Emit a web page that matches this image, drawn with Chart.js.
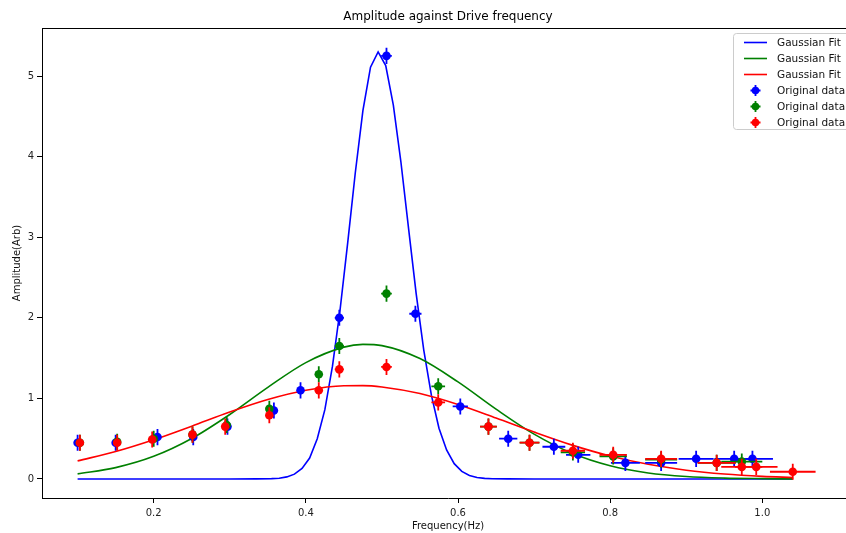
<!DOCTYPE html>
<html><head><meta charset="utf-8">
<script src="https://cdn.jsdelivr.net/npm/chart.js@4.4.1/dist/chart.umd.min.js"></script>
<style>
html,body{margin:0;padding:0;background:#fff;overflow:hidden;width:846px;height:533px;}
#wrap{position:absolute;left:0;top:0;width:862px;height:533px;}
</style></head><body>
<div id="wrap"><canvas id="c"></canvas></div>
<script>
const titleText = 'Amplitude against Drive frequency';
const xLabel = 'Frequency(Hz)';
const yLabel = 'Amplitude(Arb)';
const xTicks = [0.2, 0.4, 0.6, 0.8, 1.0];
const yTicks = [0, 1, 2, 3, 4, 5];
const fitName = 'Gaussian Fit';
const dataName = 'Original data';
const seriesColors = ['#0000ff', '#008000', '#ff0000'];

// Fitted curves
const fitX     = [0.10, 0.15, 0.20, 0.25, 0.30, 0.35, 0.40, 0.45, 0.475, 0.50, 0.55, 0.60, 0.65, 0.70, 0.75, 0.80, 0.85, 0.90, 0.95, 1.00, 1.04];
const greenFit = [0.063, 0.141, 0.281, 0.502, 0.800, 1.137, 1.444, 1.636, 1.670, 1.655, 1.494, 1.204, 0.866, 0.556, 0.318, 0.163, 0.074, 0.030, 0.011, 0.004, 0.001];
const redFit   = [0.225, 0.340, 0.486, 0.655, 0.830, 0.985, 1.100, 1.157, 1.159, 1.142, 1.060, 0.924, 0.756, 0.582, 0.420, 0.285, 0.182, 0.109, 0.061, 0.032, 0.019];

const blueFitX = [0.10, 0.20, 0.30, 0.335, 0.355, 0.365, 0.375, 0.385, 0.395, 0.405, 0.415, 0.425, 0.435, 0.445, 0.455, 0.465, 0.475, 0.485, 0.495, 0.505, 0.515, 0.525, 0.535, 0.545, 0.555, 0.565, 0.575, 0.585, 0.595, 0.605, 0.615, 0.625, 0.635, 0.645, 0.665, 0.70, 0.80, 0.90, 1.04];
const blueFit  = [0, 0, 0, 0.001, 0.004, 0.010, 0.026, 0.060, 0.13, 0.26, 0.50, 0.86, 1.40, 2.10, 2.93, 3.80, 4.57, 5.11, 5.30, 5.13, 4.64, 3.93, 3.11, 2.30, 1.60, 1.04, 0.63, 0.36, 0.19, 0.094, 0.044, 0.019, 0.008, 0.003, 0.001, 0, 0, 0, 0];

// Original data with error bars
const blueX    = [0.100, 0.150, 0.205, 0.252, 0.297, 0.358, 0.393, 0.444, 0.506, 0.544, 0.603, 0.666, 0.726, 0.758, 0.820, 0.867, 0.913, 0.963, 0.987];
const blueY    = [0.45, 0.45, 0.52, 0.52, 0.65, 0.85, 1.10, 2.00, 5.25, 2.05, 0.90, 0.50, 0.40, 0.30, 0.20, 0.20, 0.25, 0.25, 0.25];
const blueXErr = [0.001, 0.001, 0.001, 0.002, 0.003, 0.004, 0.004, 0.006, 0.007, 0.008, 0.010, 0.012, 0.015, 0.016, 0.019, 0.021, 0.023, 0.026, 0.027];
const blueYErr = [0.1, 0.1, 0.1, 0.1, 0.1, 0.1, 0.1, 0.1, 0.1, 0.1, 0.1, 0.1, 0.1, 0.1, 0.1, 0.1, 0.1, 0.1, 0.1];

const greenX    = [0.103, 0.152, 0.200, 0.251, 0.296, 0.352, 0.417, 0.444, 0.506, 0.574, 0.640, 0.694, 0.751, 0.804, 0.867, 0.940, 0.973];
const greenY    = [0.45, 0.46, 0.50, 0.55, 0.67, 0.87, 1.30, 1.65, 2.30, 1.15, 0.65, 0.45, 0.33, 0.28, 0.24, 0.20, 0.215];
const greenXErr = [0.001, 0.001, 0.001, 0.002, 0.002, 0.004, 0.005, 0.006, 0.007, 0.009, 0.011, 0.013, 0.016, 0.018, 0.021, 0.025, 0.027];
const greenYErr = [0.1, 0.1, 0.1, 0.1, 0.1, 0.1, 0.1, 0.1, 0.1, 0.1, 0.1, 0.1, 0.1, 0.1, 0.1, 0.1, 0.1];

const redX    = [0.103, 0.152, 0.198, 0.251, 0.294, 0.352, 0.417, 0.444, 0.506, 0.574, 0.640, 0.694, 0.751, 0.804, 0.867, 0.940, 0.973, 0.992, 1.040];
const redY    = [0.45, 0.45, 0.49, 0.55, 0.65, 0.79, 1.10, 1.36, 1.39, 0.95, 0.65, 0.45, 0.35, 0.30, 0.25, 0.20, 0.15, 0.15, 0.09];
const redXErr = [0.001, 0.001, 0.001, 0.002, 0.002, 0.004, 0.005, 0.006, 0.007, 0.009, 0.011, 0.013, 0.016, 0.018, 0.021, 0.025, 0.027, 0.028, 0.030];
const redYErr = [0.1, 0.1, 0.1, 0.1, 0.1, 0.1, 0.1, 0.1, 0.1, 0.1, 0.1, 0.1, 0.1, 0.1, 0.1, 0.1, 0.1, 0.1, 0.1];

const pts = (xs, ys) => xs.map((x, i) => ({x: x, y: ys[i]}));
const FONT = "'DejaVu Sans', sans-serif";

function fitDS(xs, ys, color, order) {
  return {label: fitName, data: pts(xs, ys), showLine: true, borderColor: color, backgroundColor: color,
    borderWidth: 1.6, pointRadius: 0, pointHoverRadius: 0, order: order, kind: 'fit'};
}
function ptDS(xs, ys, ex, ey, color, order) {
  return {label: dataName, data: pts(xs, ys), showLine: false, borderColor: color, backgroundColor: color,
    pointRadius: 4.3, pointBorderWidth: 0, pointHoverRadius: 4.3, errX: ex, errY: ey, order: order, kind: 'data'};
}

const datasets = [
  Object.assign(fitDS(blueFitX, blueFit, seriesColors[0], 6), {tension: 0}),
  Object.assign(fitDS(fitX, greenFit, seriesColors[1], 5), {cubicInterpolationMode: 'monotone'}),
  Object.assign(fitDS(fitX, redFit, seriesColors[2], 4), {cubicInterpolationMode: 'monotone'}),
  ptDS(blueX, blueY, blueXErr, blueYErr, seriesColors[0], 3),
  ptDS(greenX, greenY, greenXErr, greenYErr, seriesColors[1], 2),
  ptDS(redX, redY, redXErr, redYErr, seriesColors[2], 1)
];

const errorBars = {
  id: 'errorBars',
  beforeDatasetDraw(chart, args) {
    const ds = chart.data.datasets[args.index];
    if (!ds.errX) return;
    const ctx = chart.ctx, xs = chart.scales.x, ys = chart.scales.y, a = chart.chartArea;
    ctx.save();
    ctx.beginPath(); ctx.rect(a.left, a.top, a.right - a.left, a.bottom - a.top); ctx.clip();
    ctx.strokeStyle = ds.borderColor; ctx.lineWidth = 1.8;
    ds.data.forEach((p, i) => {
      const px = xs.getPixelForValue(p.x), py = ys.getPixelForValue(p.y);
      ctx.beginPath();
      ctx.moveTo(xs.getPixelForValue(p.x - ds.errX[i]), py);
      ctx.lineTo(xs.getPixelForValue(p.x + ds.errX[i]), py);
      ctx.moveTo(px, ys.getPixelForValue(p.y - ds.errY[i]));
      ctx.lineTo(px, ys.getPixelForValue(p.y + ds.errY[i]));
      ctx.stroke();
    });
    ctx.restore();
  }
};

const decor = {
  id: 'decor',
  afterDraw(chart) {
    const ctx = chart.ctx, a = chart.chartArea;
    ctx.save();
    // top spine
    ctx.strokeStyle = '#000'; ctx.lineWidth = 1;
    ctx.beginPath();
    ctx.moveTo(a.left, a.top + 0.5); ctx.lineTo(a.right, a.top + 0.5);
    ctx.stroke();
    // title
    ctx.fillStyle = '#000'; ctx.font = '12px ' + FONT;
    ctx.textAlign = 'center'; ctx.textBaseline = 'middle';
    ctx.fillText(titleText, (a.left + a.right) / 2, a.top - 11);
    // legend
    const bx = a.right - 121, by = a.top + 5, bw = 116, bh = 96;
    ctx.fillStyle = 'rgba(255,255,255,0.8)';
    ctx.strokeStyle = '#cccccc'; ctx.lineWidth = 1;
    ctx.beginPath();
    if (ctx.roundRect) ctx.roundRect(bx + 0.5, by + 0.5, bw, bh, 3); else ctx.rect(bx + 0.5, by + 0.5, bw, bh);
    ctx.fill(); ctx.stroke();
    ctx.font = '10.5px ' + FONT; ctx.textAlign = 'left'; ctx.textBaseline = 'middle';
    const items = [];
    datasets.filter(d => d.kind === 'fit').forEach(d => items.push(d));
    datasets.filter(d => d.kind === 'data').forEach(d => items.push(d));
    items.forEach((d, i) => {
      const y = by + 9.5 + i * 16;
      const hx0 = bx + 11, hx1 = bx + 34, hc = (hx0 + hx1) / 2;
      if (d.kind === 'fit') {
        ctx.strokeStyle = d.borderColor; ctx.lineWidth = 1.6;
        ctx.beginPath(); ctx.moveTo(hx0, y); ctx.lineTo(hx1, y); ctx.stroke();
      } else {
        ctx.strokeStyle = d.borderColor; ctx.lineWidth = 1.8;
        ctx.beginPath(); ctx.moveTo(hc - 5, y); ctx.lineTo(hc + 5, y);
        ctx.moveTo(hc, y - 5.5); ctx.lineTo(hc, y + 5.5); ctx.stroke();
        ctx.fillStyle = d.borderColor;
        ctx.beginPath(); ctx.arc(hc, y, 3.8, 0, Math.PI * 2); ctx.fill();
      }
      ctx.fillStyle = '#111';
      ctx.fillText(d.label, bx + 44, y + 0.5);
    });
    ctx.restore();
  }
};

new Chart(document.getElementById('c'), {
  type: 'scatter',
  data: {datasets: datasets},
  plugins: [errorBars, decor],
  options: {
    responsive: true, maintainAspectRatio: false, animation: false, devicePixelRatio: 1,
    layout: {padding: {top: 28, right: 8, left: 0, bottom: 0}},
    plugins: {legend: {display: false}, title: {display: false}, tooltip: {enabled: false}},
    scales: {
      x: {
        type: 'linear', min: 0.0532, max: 1.1205,
        afterBuildTicks: s => { s.ticks = xTicks.map(v => ({value: v})); },
        afterFit: s => { s.height = 35; },
        ticks: {callback: v => v.toFixed(1), color: '#222', font: {family: FONT, size: 10}, padding: 4, maxRotation: 0, autoSkip: false},
        grid: {display: true, drawOnChartArea: false, drawTicks: true, tickLength: 5, tickColor: '#000', tickWidth: 1},
        border: {display: true, color: '#000', width: 1},
        title: {display: true, text: xLabel, color: '#111', font: {family: FONT, size: 10}, padding: {top: 0, bottom: 1}}
      },
      y: {
        type: 'linear', min: -0.236, max: 5.596,
        afterBuildTicks: s => { s.ticks = yTicks.map(v => ({value: v})); },
        afterFit: s => { s.width = 42; },
        ticks: {callback: v => String(v), color: '#222', font: {family: FONT, size: 10}, padding: 3, autoSkip: false},
        grid: {display: true, drawOnChartArea: false, drawTicks: true, tickLength: 5, tickColor: '#000', tickWidth: 1},
        border: {display: true, color: '#000', width: 1},
        title: {display: true, text: yLabel, color: '#111', font: {family: FONT, size: 10}, padding: {top: 11, bottom: 0}}
      }
    }
  }
});
</script>
</body></html>
